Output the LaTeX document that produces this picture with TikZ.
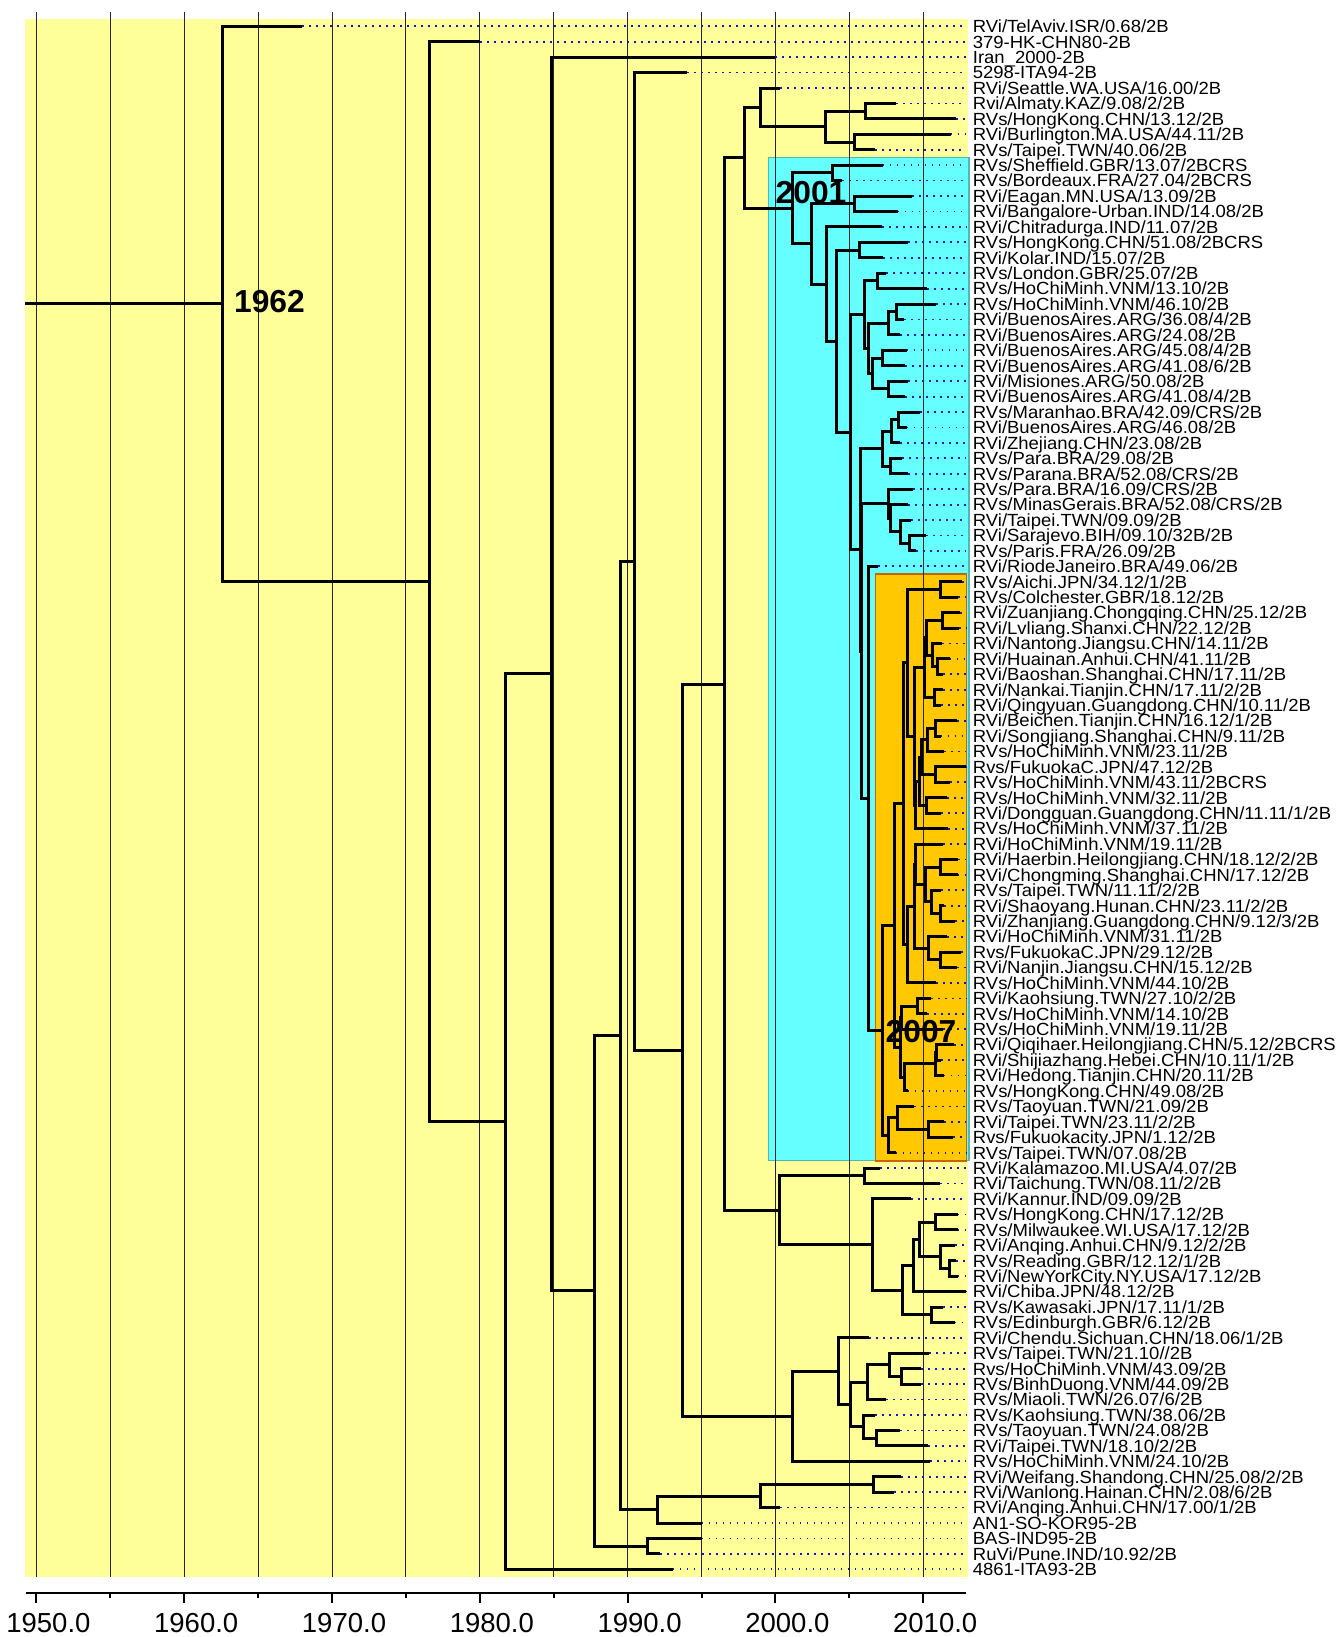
\documentclass[tikz,border=0pt]{standalone}
\usepackage{fontspec}
\usepackage{graphicx}
\setmainfont{Liberation Sans}
\usetikzlibrary{calc}
\definecolor{bgyellow}{HTML}{FFFF99}
\definecolor{boxcyan}{HTML}{66FFFF}
\definecolor{boxcyanline}{HTML}{4DB8B8}
\definecolor{boxorange}{HTML}{FFC800}
\definecolor{boxorangeline}{HTML}{C86400}
\definecolor{dotblue}{HTML}{1515C8}
\newcommand\yrx[1]{(36.4+(#1-1950)*14.78)}
\newcommand\leafy[1]{(26.3+(#1-1)*15.43)}
\tikzset{
  br/.style={line width=1.5pt, line join=miter, line cap=butt},
  dotline/.style={dotblue, line width=0.9pt, dash pattern=on 0.9pt off 2.6pt},
  lab/.style={anchor=base west, inner sep=0pt, font=\fontsize{8.8}{8.8}\selectfont},
  yearlab/.style={font=\bfseries\fontsize{15.9}{15.9}\selectfont, inner sep=0pt},
  axlab/.style={font=\fontsize{13.75}{13.75}\selectfont, inner sep=0pt},
  gridline/.style={black!85, line width=0.5pt},
  axisline/.style={black, line width=1pt},
}
\newcommand\leaf[3]{%
  \coordinate (l#1) at ({\yrx{#2}}, {\leafy{#1}});
  \node[lab] (t#1) at (972.5, {\leafy{#1}+6.3}) {\scalebox{1.05}[1]{#3}};
  \draw[dotline] (l#1) -- ($(l#1 -| t#1.west)+(-6.5,0)$);
}
\newcommand\nd[4]{%
  \path let \p1=($(#3)!0.5!(#4)$) in ({\yrx{#2}*0.5pt}, \y1) coordinate (#1);
  \draw[br] (#3) -- (#3 -| #1) -- (#4 -| #1) -- (#4);
}
\begin{document}
\begin{tikzpicture}[x=0.5pt,y=-0.5pt]
\useasboundingbox (0,0) rectangle (1341,1637);
\fill[white] (0,0) rectangle (1341,1637);
% backgrounds
\fill[bgyellow] (25,19) rectangle (968,1577);
\filldraw[fill=boxcyan, draw=boxcyanline, line width=0.7pt] (768.3,157.7) rectangle (969,1160.7);
\filldraw[fill=boxorange, draw=boxorangeline, line width=0.8pt] (875.5,574) rectangle (966.5,1160.7);
% grid
\foreach \yr in {1950,1955,...,2010} {
  \draw[gridline] ({\yrx{\yr}},11.7) -- ({\yrx{\yr}},1577);
}
% axis
\coordinate (axL) at (25.5,1593);
\coordinate (axR) at (966,1593);
\draw[axisline] (axL) -- (axR);
\foreach \yr [count=\k] in {1950,1960,...,2010} {
  \draw[axisline] ({\yrx{\yr}},1591.5) -- ({\yrx{\yr}},1602.5);
  \node[axlab] (ax\k) at ({\yrx{\yr}+12},1623) {\yr.0};
}
\foreach \yr in {1955,1965,...,2005} {
  \draw[axisline] ({\yrx{\yr}},1593) -- ({\yrx{\yr}},1597.8);
}
% leaves
\leaf{1}{1968.00}{RVi/TelAviv.ISR/0.68/2B}
\leaf{2}{1980.00}{379-HK-CHN80-2B}
\leaf{3}{2000.00}{Iran\_2000-2B}
\leaf{4}{1994.00}{5298-ITA94-2B}
\leaf{5}{2000.31}{RVi/Seattle.WA.USA/16.00/2B}
\leaf{6}{2008.17}{Rvi/Almaty.KAZ/9.08/2/2B}
\leaf{7}{2012.25}{RVs/HongKong.CHN/13.12/2B}
\leaf{8}{2011.85}{RVi/Burlington.MA.USA/44.11/2B}
\leaf{9}{2006.77}{RVs/Taipei.TWN/40.06/2B}
\leaf{10}{2007.25}{RVs/Sheffield.GBR/13.07/2BCRS}
\leaf{11}{2004.52}{RVs/Bordeaux.FRA/27.04/2BCRS}
\leaf{12}{2009.25}{RVi/Eagan.MN.USA/13.09/2B}
\leaf{13}{2008.27}{RVi/Bangalore-Urban.IND/14.08/2B}
\leaf{14}{2007.21}{RVi/Chitradurga.IND/11.07/2B}
\leaf{15}{2008.98}{RVs/HongKong.CHN/51.08/2BCRS}
\leaf{16}{2007.29}{RVi/Kolar.IND/15.07/2B}
\leaf{17}{2007.48}{RVs/London.GBR/25.07/2B}
\leaf{18}{2010.25}{RVs/HoChiMinh.VNM/13.10/2B}
\leaf{19}{2010.88}{RVs/HoChiMinh.VNM/46.10/2B}
\leaf{20}{2008.69}{RVi/BuenosAires.ARG/36.08/4/2B}
\leaf{21}{2008.46}{RVi/BuenosAires.ARG/24.08/2B}
\leaf{22}{2008.87}{RVi/BuenosAires.ARG/45.08/4/2B}
\leaf{23}{2008.79}{RVi/BuenosAires.ARG/41.08/6/2B}
\leaf{24}{2008.96}{RVi/Misiones.ARG/50.08/2B}
\leaf{25}{2008.79}{RVi/BuenosAires.ARG/41.08/4/2B}
\leaf{26}{2009.81}{RVs/Maranhao.BRA/42.09/CRS/2B}
\leaf{27}{2008.88}{RVi/BuenosAires.ARG/46.08/2B}
\leaf{28}{2008.44}{RVi/Zhejiang.CHN/23.08/2B}
\leaf{29}{2008.56}{RVs/Para.BRA/29.08/2B}
\leaf{30}{2009.00}{RVs/Parana.BRA/52.08/CRS/2B}
\leaf{31}{2009.31}{RVs/Para.BRA/16.09/CRS/2B}
\leaf{32}{2009.00}{RVs/MinasGerais.BRA/52.08/CRS/2B}
\leaf{33}{2009.17}{RVi/Taipei.TWN/09.09/2B}
\leaf{34}{2010.17}{RVi/Sarajevo.BIH/09.10/32B/2B}
\leaf{35}{2009.50}{RVs/Paris.FRA/26.09/2B}
\leaf{36}{2006.94}{RVi/RiodeJaneiro.BRA/49.06/2B}
\leaf{37}{2012.65}{RVs/Aichi.JPN/34.12/1/2B}
\leaf{38}{2012.35}{RVs/Colchester.GBR/18.12/2B}
\leaf{39}{2012.48}{RVi/Zuanjiang.Chongqing.CHN/25.12/2B}
\leaf{40}{2012.42}{RVi/Lvliang.Shanxi.CHN/22.12/2B}
\leaf{41}{2011.27}{RVi/Nantong.Jiangsu.CHN/14.11/2B}
\leaf{42}{2011.79}{RVi/Huainan.Anhui.CHN/41.11/2B}
\leaf{43}{2011.33}{RVi/Baoshan.Shanghai.CHN/17.11/2B}
\leaf{44}{2011.33}{RVi/Nankai.Tianjin.CHN/17.11/2/2B}
\leaf{45}{2011.19}{RVi/Qingyuan.Guangdong.CHN/10.11/2B}
\leaf{46}{2012.31}{RVi/Beichen.Tianjin.CHN/16.12/1/2B}
\leaf{47}{2011.17}{RVi/Songjiang.Shanghai.CHN/9.11/2B}
\leaf{48}{2011.44}{RVs/HoChiMinh.VNM/23.11/2B}
\leaf{49}{2012.90}{Rvs/FukuokaC.JPN/47.12/2B}
\leaf{50}{2011.83}{RVs/HoChiMinh.VNM/43.11/2BCRS}
\leaf{51}{2011.62}{RVs/HoChiMinh.VNM/32.11/2B}
\leaf{52}{2011.21}{RVi/Dongguan.Guangdong.CHN/11.11/1/2B}
\leaf{53}{2011.71}{RVs/HoChiMinh.VNM/37.11/2B}
\leaf{54}{2011.37}{RVi/HoChiMinh.VNM/19.11/2B}
\leaf{55}{2012.35}{RVi/Haerbin.Heilongjiang.CHN/18.12/2/2B}
\leaf{56}{2012.33}{RVi/Chongming.Shanghai.CHN/17.12/2B}
\leaf{57}{2011.21}{RVs/Taipei.TWN/11.11/2/2B}
\leaf{58}{2011.44}{RVi/Shaoyang.Hunan.CHN/23.11/2/2B}
\leaf{59}{2012.17}{RVi/Zhanjiang.Guangdong.CHN/9.12/3/2B}
\leaf{60}{2011.60}{RVi/HoChiMinh.VNM/31.11/2B}
\leaf{61}{2012.56}{Rvs/FukuokaC.JPN/29.12/2B}
\leaf{62}{2012.29}{RVi/Nanjin.Jiangsu.CHN/15.12/2B}
\leaf{63}{2010.85}{RVs/HoChiMinh.VNM/44.10/2B}
\leaf{64}{2010.52}{RVi/Kaohsiung.TWN/27.10/2/2B}
\leaf{65}{2010.27}{RVs/HoChiMinh.VNM/14.10/2B}
\leaf{66}{2011.37}{RVs/HoChiMinh.VNM/19.11/2B}
\leaf{67}{2012.10}{RVi/Qiqihaer.Heilongjiang.CHN/5.12/2BCRS}
\leaf{68}{2011.19}{RVi/Shijiazhang.Hebei.CHN/10.11/1/2B}
\leaf{69}{2011.38}{RVi/Hedong.Tianjin.CHN/20.11/2B}
\leaf{70}{2008.94}{RVs/HongKong.CHN/49.08/2B}
\leaf{71}{2009.40}{RVs/Taoyuan.TWN/21.09/2B}
\leaf{72}{2011.44}{RVi/Taipei.TWN/23.11/2/2B}
\leaf{73}{2012.02}{Rvs/Fukuokacity.JPN/1.12/2B}
\leaf{74}{2008.13}{RVs/Taipei.TWN/07.08/2B}
\leaf{75}{2007.08}{RVi/Kalamazoo.MI.USA/4.07/2B}
\leaf{76}{2011.15}{RVi/Taichung.TWN/08.11/2/2B}
\leaf{77}{2009.17}{RVi/Kannur.IND/09.09/2B}
\leaf{78}{2012.33}{RVs/HongKong.CHN/17.12/2B}
\leaf{79}{2012.33}{RVs/Milwaukee.WI.USA/17.12/2B}
\leaf{80}{2012.17}{RVi/Anqing.Anhui.CHN/9.12/2/2B}
\leaf{81}{2012.23}{RVs/Reading.GBR/12.12/1/2B}
\leaf{82}{2012.33}{RVi/NewYorkCity.NY.USA/17.12/2B}
\leaf{83}{2012.90}{RVi/Chiba.JPN/48.12/2B}
\leaf{84}{2011.33}{RVs/Kawasaki.JPN/17.11/1/2B}
\leaf{85}{2012.12}{RVs/Edinburgh.GBR/6.12/2B}
\leaf{86}{2006.35}{RVi/Chendu.Sichuan.CHN/18.06/1/2B}
\leaf{87}{2010.40}{RVs/Taipei.TWN/21.10//2B}
\leaf{88}{2009.83}{Rvs/HoChiMinh.VNM/43.09/2B}
\leaf{89}{2009.85}{RVs/BinhDuong.VNM/44.09/2B}
\leaf{90}{2007.50}{RVs/Miaoli.TWN/26.07/6/2B}
\leaf{91}{2006.73}{RVs/Kaohsiung.TWN/38.06/2B}
\leaf{92}{2008.46}{RVs/Taoyuan.TWN/24.08/2B}
\leaf{93}{2010.35}{RVi/Taipei.TWN/18.10/2/2B}
\leaf{94}{2010.46}{RVs/HoChiMinh.VNM/24.10/2B}
\leaf{95}{2008.48}{RVi/Weifang.Shandong.CHN/25.08/2/2B}
\leaf{96}{2008.04}{RVi/Wanlong.Hainan.CHN/2.08/6/2B}
\leaf{97}{2000.33}{RVi/Anqing.Anhui.CHN/17.00/1/2B}
\leaf{98}{1995.00}{AN1-SO-KOR95-2B}
\leaf{99}{1995.00}{BAS-IND95-2B}
\leaf{100}{1992.19}{RuVi/Pune.IND/10.92/2B}
\leaf{101}{1993.05}{4861-ITA93-2B}
% internal nodes, top part
\nd{a67}{2006.11}{l6}{l7}
\nd{a89}{2005.34}{l8}{l9}
\nd{a69}{2003.40}{a67}{a89}
\nd{a59}{1998.97}{l5}{a69}
\nd{a1011}{2003.85}{l10}{l11}
\nd{a1213}{2005.32}{l12}{l13}
\nd{a1516}{2005.66}{l15}{l16}
\nd{a1718}{2006.89}{l17}{l18}
\nd{a1920}{2008.16}{l19}{l20}
\nd{a1921}{2007.64}{a1920}{l21}
\nd{a2223}{2007.23}{l22}{l23}
\nd{a2425}{2007.64}{l24}{l25}
\nd{a2225}{2006.58}{a2223}{a2425}
\nd{cB}{2006.33}{a1921}{a2225}
\nd{cA}{2006.06}{a1718}{cB}
\nd{a2627}{2008.36}{l26}{l27}
\nd{a2628}{2007.87}{a2627}{l28}
\nd{a2930}{2007.80}{l29}{l30}
\nd{a2630}{2007.23}{a2628}{a2930}
\nd{nH}{2009.04}{l34}{l35}
\nd{nG}{2008.48}{l33}{nH}
\nd{nE2}{2007.80}{l32}{nG}
\nd{nE}{2007.64}{l31}{nE2}
% orange clade
\nd{o3738}{2011.14}{l37}{l38}
\nd{o3940}{2011.30}{l39}{l40}
\nd{o4243}{2010.95}{l42}{l43}
\nd{o4143}{2010.64}{l41}{o4243}
\nd{oQ1}{2010.24}{o3940}{o4143}
\nd{o4445}{2010.75}{l44}{l45}
\nd{oQ2}{2010.10}{oQ1}{o4445}
\nd{o4647}{2010.80}{l46}{l47}
\nd{o4648}{2010.28}{o4647}{l48}
\nd{o4950}{2010.80}{l49}{l50}
\nd{oR1}{2009.90}{o4648}{o4950}
\nd{o5152}{2010.24}{l51}{l52}
\nd{oR2}{2009.78}{oR1}{o5152}
\nd{oS1}{2009.47}{oR2}{l53}
\nd{oS2}{2009.42}{oQ2}{oS1}
\nd{oP}{2008.95}{o3738}{oS2}
\nd{oU1}{2011.15}{l55}{l56}
\nd{oU3}{2011.20}{l58}{l59}
\nd{oU2}{2010.53}{l57}{oU3}
\nd{oU4}{2010.17}{oU1}{oU2}
\nd{oXa}{2009.47}{l54}{oU4}
\nd{oW}{2011.14}{l61}{l62}
\nd{oV}{2010.39}{l60}{oW}
\nd{oXb}{2009.38}{oXa}{oV}
\nd{oY}{2008.95}{oXb}{l63}
\nd{oT}{2008.70}{oP}{oY}
\nd{o6465}{2009.63}{l64}{l65}
\nd{oAB}{2008.55}{o6465}{l66}
\nd{oAE}{2010.91}{l67}{l68}
\nd{oAD}{2010.80}{oAE}{l69}
\nd{oAC}{2008.72}{oAD}{l70}
\nd{oAA}{2008.43}{oAB}{oAC}
\nd{oZ}{2008.09}{oT}{oAA}
\nd{oAG}{2010.35}{l72}{l73}
\nd{oAH}{2008.25}{l71}{oAG}
\nd{oAF}{2007.64}{oAH}{l74}
\nd{oroot}{2007.26}{oZ}{oAF}
\nd{a36o}{2006.29}{l36}{oroot}
\nd{cD}{2005.80}{nE}{a36o}
\nd{cC}{2005.77}{a2630}{cD}
\nd{n850}{2005.05}{cA}{cC}
\nd{n836}{2004.15}{a1516}{n850}
\nd{n826}{2003.47}{l14}{n836}
\nd{n811}{2002.46}{a1213}{n826}
\nd{n2001}{2001.14}{a1011}{n811}
\nd{n1997}{1997.90}{a59}{n2001}
% bottom part
\nd{b7576}{2006.00}{l75}{l76}
\nd{b7879}{2010.81}{l78}{l79}
\nd{b8182}{2011.77}{l81}{l82}
\nd{b8082}{2011.14}{l80}{b8182}
\nd{b7882}{2009.72}{b7879}{b8082}
\nd{b7883}{2009.33}{b7882}{l83}
\nd{b8485}{2010.53}{l84}{l85}
\nd{b7885}{2008.59}{b7883}{b8485}
\nd{b7785}{2006.58}{l77}{b7885}
\nd{b2000}{2000.26}{b7576}{b7785}
\nd{N7}{1996.54}{n1997}{b2000}
\nd{b8889}{2008.55}{l88}{l89}
\nd{b8789}{2007.75}{l87}{b8889}
\nd{b8790}{2006.25}{b8789}{l90}
\nd{b9293}{2006.81}{l92}{l93}
\nd{b9193}{2005.95}{l91}{b9293}
\nd{b8793}{2005.09}{b8790}{b9193}
\nd{b8693}{2004.28}{l86}{b8793}
\nd{b8694}{2001.14}{b8693}{l94}
\nd{N8}{1993.71}{N7}{b8694}
\nd{N6}{1990.49}{l4}{N8}
\nd{b9596}{2006.67}{l95}{l96}
\nd{b9597}{1999.02}{b9596}{l97}
\nd{b9598}{1992.01}{b9597}{l98}
\nd{N4}{1989.52}{N6}{b9598}
\nd{b99100}{1991.36}{l99}{l100}
\nd{N5}{1987.79}{N4}{b99100}
\nd{N3}{1984.87}{l3}{N5}
\nd{N2}{1981.75}{N3}{l101}
\nd{N1}{1976.63}{l2}{N2}
\nd{root}{1962.62}{l1}{N1}
\coordinate (rootin) at (25,0);
\draw[br] (root -| rootin) -- (root);
% clade date labels
\node[yearlab] (lab1962) at (269.5,301.5) {1962};
\node[yearlab] (lab2001) at (811,192.5) {2001};
\node[yearlab] (lab2007) at (921,1032) {2007};
\end{tikzpicture}
\end{document}
